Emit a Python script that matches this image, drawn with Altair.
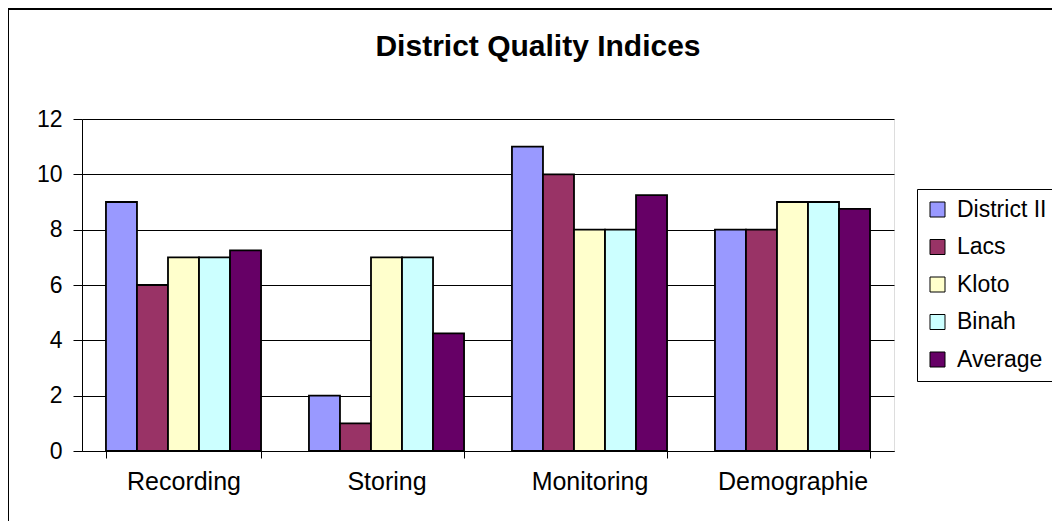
import altair as alt
import pandas as pd

categories = ["Recording", "Storing", "Monitoring", "Demographie"]
series = ["District II", "Lacs", "Kloto", "Binah", "Average"]
district_ii = [9, 2, 11, 8]
lacs = [6, 1, 10, 8]
kloto = [7, 7, 8, 9]
binah = [7, 7, 8, 9]
average = [7.25, 4.25, 9.25, 8.75]
colors = ["#9999FF", "#993366", "#FFFFCC", "#CCFFFF", "#660066"]

rows = []
for name, vals in zip(series, [district_ii, lacs, kloto, binah, average]):
    for cat, v in zip(categories, vals):
        rows.append({"category": cat, "series": name, "value": v})
df = pd.DataFrame(rows)

FONT = "Liberation Sans"

frame = alt.Chart(alt.Data(values=[{"a": 1}])).mark_rect(
    filled=False, stroke="black", strokeWidth=2
).encode(
    x=alt.value(-74), x2=alt.value(3000), y=alt.value(-110), y2=alt.value(3000)
)

bars = alt.Chart(df).mark_bar(stroke="black", strokeWidth=1.8).encode(
    x=alt.X(
        "category:N",
        sort=categories,
        scale=alt.Scale(paddingInner=0.236, paddingOuter=0.118),
        axis=alt.Axis(
            title=None, labelAngle=0, labelFontSize=25, labelFont=FONT,
            labelColor="black", tickBand="extent", tickSize=7,
            tickColor="black", domainColor="black", labelPadding=11,
        ),
    ),
    xOffset=alt.XOffset("series:N", sort=series,
                        scale=alt.Scale(paddingInner=0, paddingOuter=0)),
    y=alt.Y(
        "value:Q",
        scale=alt.Scale(domain=[0, 12], nice=False),
        axis=alt.Axis(
            title=None, values=[0, 2, 4, 6, 8, 10, 12], labelFontSize=23,
            labelFont=FONT, labelColor="black", tickSize=9, tickColor="black",
            domainColor="black", grid=True, gridColor="black", gridWidth=1,
            labelPadding=11,
        ),
    ),
    color=alt.Color(
        "series:N",
        sort=series,
        scale=alt.Scale(domain=series, range=colors),
        legend=alt.Legend(
            title=None, orient="none", legendX=835, legendY=70,
            strokeColor="black", padding=9, symbolType="square",
            symbolSize=225, symbolStrokeColor="black", symbolStrokeWidth=1,
            symbolOpacity=1, labelFontSize=23, labelFont=FONT,
            labelColor="black", rowPadding=13.5, labelOffset=8,
        ),
    ),
)

chart = alt.layer(frame, bars).properties(
    width=812,
    height=332,
    autosize=alt.AutoSizeParams(type="none"),
    padding={"left": 74, "top": 111, "right": 158, "bottom": 70},
    title=alt.TitleParams(
        "District Quality Indices", font=FONT, fontSize=30, fontWeight="bold",
        color="black", anchor="middle", frame="group", dx=50, offset=-78,
        baseline="alphabetic",
    ),
).configure_view(
    fill="#C0C0C0", stroke="#808080", strokeWidth=1
).configure(background="white")

chart.save("out.html", embed_options={"renderer": "svg", "actions": False})
